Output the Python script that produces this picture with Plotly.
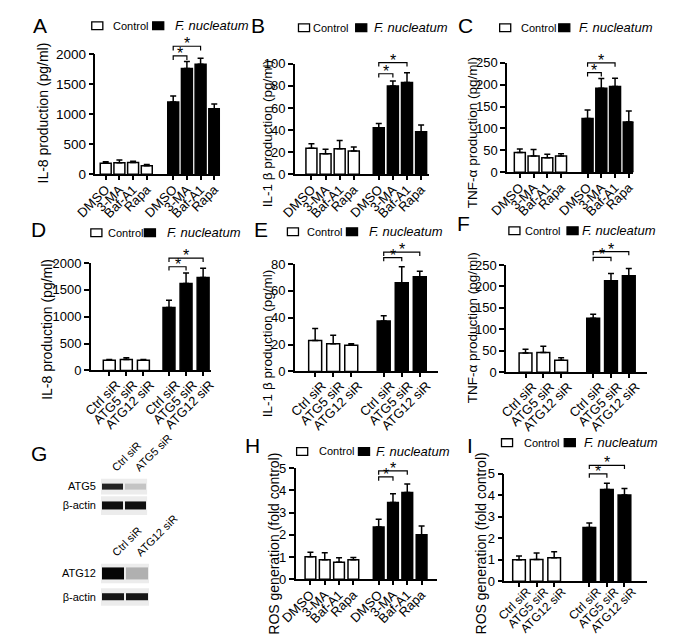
import plotly.graph_objects as go

W, H = 674, 635

# ---------------- data ----------------
drug_labels = ["DMSO", "3-MA", "Baf-A1", "Rapa"]
sirna_labels = ["Ctrl siR", "ATG5 siR", "ATG12 siR"]

# A: IL-8 (pg/ml), autophagy drugs
a_ctrl = [180, 190, 195, 140]
a_ctrl_err = [25, 45, 20, 20]
a_fn = [1200, 1760, 1830, 1090]
a_fn_err = [100, 115, 100, 80]

# B: IL-1 beta (pg/ml), autophagy drugs
b_ctrl = [23.5, 18.5, 23, 21]
b_ctrl_err = [4, 4, 7.5, 3.5]
b_fn = [42, 80, 83, 38.5]
b_fn_err = [4, 4.5, 9, 6]

# C: TNF-alpha (pg/ml), autophagy drugs
c_ctrl = [45, 37, 33, 37]
c_ctrl_err = [8, 15, 8, 5]
c_fn = [123, 192, 196, 115]
c_fn_err = [19, 22, 19, 25]

# D: IL-8 (pg/ml), siRNA
d_ctrl = [190, 205, 190]
d_ctrl_err = [15, 30, 15]
d_fn = [1170, 1620, 1730]
d_fn_err = [135, 195, 170]

# E: IL-1 beta (pg/ml), siRNA
e_ctrl = [23, 20.5, 19.5]
e_ctrl_err = [9, 6.5, 1]
e_fn = [37.5, 66, 70.5]
e_fn_err = [4, 12, 4]

# F: TNF-alpha (pg/ml), siRNA
f_ctrl = [45, 46, 28]
f_ctrl_err = [9, 15, 6]
f_fn = [126, 213, 225]
f_fn_err = [9, 17, 17]

# H: ROS (fold control), autophagy drugs
h_ctrl = [1.02, 0.88, 0.77, 0.88]
h_ctrl_err = [0.2, 0.32, 0.2, 0.1]
h_fn = [2.35, 3.45, 3.9, 2.0]
h_fn_err = [0.35, 0.4, 0.38, 0.4]

# I: ROS (fold control), siRNA
i_ctrl = [1.0, 1.02, 1.1]
i_ctrl_err = [0.18, 0.3, 0.27]
i_fn = [2.5, 4.27, 4.02]
i_fn_err = [0.22, 0.3, 0.3]

# G: western blot band intensities (0 = none, 1 = saturated)
blot1_lanes = ["Ctrl siR", "ATG5 siR"]
blot2_lanes = ["Ctrl siR", "ATG12 siR"]
atg5_bands = [0.85, 0.2]
actin1_bands = [0.95, 0.95]
atg12_bands = [1.0, 0.3]
actin2_bands = [0.92, 0.92]

series_names = ["Control", "<i>F. nucleatum</i>"]

# ---------------- layout helpers ----------------
def fx(px):
    return px / W

def fy(py):
    return 1 - py / H

FONT = "Arial, Liberation Sans, sans-serif"

# leg = (box1 left, text1 left, box2 left, text2 left, y centre)
panels = [
    dict(letter="A", labels=drug_labels, ctrl=a_ctrl, ctrl_err=a_ctrl_err, fn=a_fn, fn_err=a_fn_err,
         ymax=2000, dtick=500, title="IL-8 production (pg/ml)", tsz=14, ysz=13.5, xsz=13,
         xd=(72, 207), yd=(40, 163), xr=(-0.75, 8.35), off=4.93, bw=0.8, shift=0, sto=-3,
         leg=(68, 90, 134, 157, 11), let=(2, 11), tit=(15, 100), br=(0.985, 1.065)),
    dict(letter="B", labels=drug_labels, ctrl=b_ctrl, ctrl_err=b_ctrl_err, fn=b_fn, fn_err=b_fn_err,
         ymax=100, dtick=20, title="IL-1 \u03b2 production (pg/ml)", tsz=13.5, ysz=13, xsz=13,
         xd=(288, 433), yd=(50, 163), xr=(-1.18, 8.3), off=4.77, bw=0.78, shift=0, sto=-3,
         leg=(292, 307, 354, 373, 13), let=(238, 11), tit=(258, 122), br=(0.91, 1.01)),
    dict(letter="C", labels=drug_labels, ctrl=c_ctrl, ctrl_err=c_ctrl_err, fn=c_fn, fn_err=c_fn_err,
         ymax=250, dtick=50, title="TNF-\u03b1 production (pg/ml)", tsz=13.5, ysz=13, xsz=13,
         xd=(518, 655), yd=(49, 161), xr=(-0.93, 8.27), off=4.93, bw=0.8, shift=0, sto=-3,
         leg=(510, 532, 574, 595, 13), let=(463, 11), tit=(480, 120), br=(0.91, 1.0)),
    dict(letter="D", labels=sirna_labels, ctrl=d_ctrl, ctrl_err=d_ctrl_err, fn=d_fn, fn_err=d_fn_err,
         ymax=2000, dtick=500, title="IL-8 production (pg/ml)", tsz=14, ysz=13, xsz=13,
         xd=(67, 197), yd=(254, 364), xr=(-1.08, 5.95), off=3.5, bw=0.7, shift=7, sto=-4,
         leg=(67, 84, 125, 148, 223), let=(0, 220), tit=(20, 322), br=(0.965, 1.045)),
    dict(letter="E", labels=sirna_labels, ctrl=e_ctrl, ctrl_err=e_ctrl_err, fn=e_fn, fn_err=e_fn_err,
         ymax=80, dtick=20, title="IL-1 \u03b2 production (pg/ml)", tsz=13.5, ysz=13, xsz=13,
         xd=(288, 443), yd=(255, 365), xr=(-1.13, 6.8), off=3.8, bw=0.72, shift=7, sto=-4,
         leg=(280, 300, 344, 367, 222), let=(242, 220), tit=(258, 337), br=(1.06, 1.11)),
    dict(letter="F", labels=sirna_labels, ctrl=f_ctrl, ctrl_err=f_ctrl_err, fn=f_fn, fn_err=f_fn_err,
         ymax=250, dtick=50, title="TNF-\u03b1 production (pg/ml)", tsz=13.5, ysz=13, xsz=13,
         xd=(517, 670), yd=(256, 366), xr=(-1.09, 6.84), off=3.8, bw=0.72, shift=7, sto=-4,
         leg=(520, 536, 583, 598, 221), let=(462, 214), tit=(481, 320), br=(1.07, 1.125)),
    dict(letter="H", labels=drug_labels, ctrl=h_ctrl, ctrl_err=h_ctrl_err, fn=h_fn, fn_err=h_fn_err,
         ymax=5, dtick=1, title="ROS generation (fold control)", tsz=14, ysz=13, xsz=13,
         xd=(289, 442), yd=(464, 578), xr=(-1.03, 8.84), off=4.77, bw=0.75, shift=0, sto=-3,
         leg=(290, 313, 357, 375, 447), let=(232, 441), tit=(266, 541), br=(0.92, 0.975)),
    dict(letter="I", labels=sirna_labels, ctrl=i_ctrl, ctrl_err=i_ctrl_err, fn=i_fn, fn_err=i_fn_err,
         ymax=5, dtick=1, title="ROS generation (fold control)", tsz=14, ysz=13, xsz=12,
         xd=(515, 670), yd=(470, 580), xr=(-0.84, 7.3), off=4.0, bw=0.72, shift=8, sto=-7,
         leg=(512, 535, 580, 600, 438), let=(472, 441), tit=(490, 541), br=(1.0, 1.08)),
]

fig = go.Figure()
layout = dict(
    width=W, height=H, margin=dict(l=0, r=0, t=0, b=0),
    paper_bgcolor="white", plot_bgcolor="rgba(0,0,0,0)",
    font=dict(family=FONT, color="black", size=13),
    showlegend=False, barmode="overlay",
)
annotations = []
shapes = []
NP = len(panels)
EXTRA = 40  # px of headroom for significance brackets
bar_colors = ["white", "black"]
leg_fonts = [11, 13]

for i, p in enumerate(panels):
    k = i + 1
    xa = "x" if k == 1 else f"x{k}"
    ya = "y" if k == 1 else f"y{k}"
    bk = k + NP
    yb = f"y{bk}"
    n = len(p["labels"])
    xc = list(range(n))
    xf = [j + p["off"] for j in range(n)]

    for s, (xs, ys, es) in enumerate([(xc, p["ctrl"], p["ctrl_err"]), (xf, p["fn"], p["fn_err"])]):
        fig.add_trace(go.Bar(
            x=xs, y=ys, width=p["bw"], name=series_names[s],
            marker=dict(color=bar_colors[s], line=dict(color="black", width=1.5)),
            error_y=dict(type="data", array=es, arrayminus=[0] * n, symmetric=False,
                         color="black", thickness=1.5, width=3),
            xaxis=xa, yaxis=ya, hoverinfo="skip"))
        # legend key: box + label
        bx = p["leg"][2 * s]
        tx = p["leg"][2 * s + 1]
        ly = p["leg"][4]
        shapes.append(dict(type="rect", xref="paper", yref="paper",
                           x0=fx(bx), x1=fx(bx + 12), y0=fy(ly + 4), y1=fy(ly - 4),
                           fillcolor=bar_colors[s], line=dict(color="black", width=1.3)))
        annotations.append(dict(x=fx(tx), y=fy(ly), xref="paper", yref="paper",
                                text=series_names[s], showarrow=False, xanchor="left",
                                yanchor="middle", borderpad=0,
                                font=dict(size=leg_fonts[s], family=FONT)))

    x0, x1 = fx(p["xd"][0]), fx(p["xd"][1])
    ytop, ybot = p["yd"]
    hpx = ybot - ytop
    layout[f"xaxis{k}"] = dict(
        domain=[x0, x1], anchor=ya, range=list(p["xr"]),
        tickvals=xc + xf, ticktext=p["labels"] + p["labels"], tickangle=-45,
        showline=True, linecolor="black", linewidth=1.5, ticks="outside", ticklen=4,
        tickwidth=1.5, tickcolor="black", showgrid=False, zeroline=False,
        ticklabelshift=p["shift"], ticklabelstandoff=p["sto"],
        tickfont=dict(size=p["xsz"], family=FONT), fixedrange=True)
    layout[f"yaxis{k}"] = dict(
        domain=[fy(ybot), fy(ytop)], anchor=xa, range=[0, p["ymax"]], dtick=p["dtick"],
        showline=True, linecolor="black", linewidth=1.5, ticks="outside", ticklen=5,
        tickwidth=1.5, tickcolor="black", showgrid=False, zeroline=False,
        tickfont=dict(size=p["ysz"], family=FONT), fixedrange=True)
    # bracket axis: same scale, extended upward
    layout[f"yaxis{bk}"] = dict(
        domain=[fy(ybot), fy(ytop - EXTRA)], anchor=xa,
        range=[0, p["ymax"] * (hpx + EXTRA) / hpx], visible=False, fixedrange=True)

    # significance brackets: F. nucleatum first group vs 2nd and 3rd treatments
    tick = p["ymax"] * 0.035
    for j, lvl in zip([1, 2], p["br"]):
        L = p["ymax"] * lvl
        fig.add_trace(go.Scatter(
            x=[xf[0], xf[0], xf[j], xf[j]], y=[L - tick, L, L, L - tick],
            mode="lines", line=dict(color="black", width=1.2), showlegend=False,
            hoverinfo="skip", xaxis=xa, yaxis=yb))
        annotations.append(dict(
            x=(xf[0] + xf[j]) / 2, y=L, xref=xa, yref=yb, text="*", showarrow=False,
            yanchor="bottom", yshift=-8, font=dict(size=16, family=FONT)))

    annotations.append(dict(
        x=fx(p["let"][0]), y=fy(p["let"][1]), xref="paper", yref="paper", text=p["letter"],
        showarrow=False, xanchor="left", yanchor="middle", font=dict(size=21, family=FONT)))
    annotations.append(dict(
        x=fx(p["tit"][0]), y=fy(p["tit"][1]), xref="paper", yref="paper", text=p["title"],
        textangle=-90, showarrow=False, xanchor="center", yanchor="middle",
        font=dict(size=p["tsz"], family=FONT)))

# ---------------- panel G: western blots ----------------
annotations.append(dict(x=fx(0), y=fy(449), xref="paper", yref="paper", text="G",
                        showarrow=False, xanchor="left", yanchor="middle",
                        font=dict(size=21, family=FONT)))

blots = [
    dict(bands=atg5_bands, row="ATG5", lanes=blot1_lanes, xd=(78, 128), yd=(475, 491), frac=0.38),
    dict(bands=actin1_bands, row="\u03b2-actin", lanes=None, xd=(78, 128), yd=(493, 512), frac=0.45),
    dict(bands=atg12_bands, row="ATG12", lanes=blot2_lanes, xd=(78, 130), yd=(562, 582), frac=0.62),
    dict(bands=actin2_bands, row="\u03b2-actin", lanes=None, xd=(78, 130), yd=(587, 605), frac=0.42),
]
base = 2 * NP
for b_i, b in enumerate(blots):
    k = base + b_i + 1
    xa, ya = f"x{k}", f"y{k}"
    nl = len(b["bands"])
    fig.add_trace(go.Heatmap(
        z=[b["bands"]], x=list(range(nl)), y=[0], zmin=0, zmax=1,
        colorscale=[[0, "#ececec"], [0.3, "#b0b0b0"], [0.7, "#404040"], [1, "#050505"]],
        showscale=False, xgap=2, hoverinfo="skip", xaxis=xa, yaxis=ya))
    h = 0.5 / b["frac"]
    xaxis = dict(domain=[fx(b["xd"][0]), fx(b["xd"][1])], anchor=ya, range=[-0.5, nl - 0.5],
                 showgrid=False, zeroline=False, showline=False, fixedrange=True)
    if b["lanes"]:
        xaxis.update(side="top", tickvals=list(range(nl)), ticktext=b["lanes"], tickangle=-45,
                     ticks="", ticklabelstandoff=2, tickfont=dict(size=11, family=FONT))
    else:
        xaxis.update(showticklabels=False, ticks="")
    layout[f"xaxis{k}"] = xaxis
    layout[f"yaxis{k}"] = dict(domain=[fy(b["yd"][1]), fy(b["yd"][0])], anchor=xa, range=[-h, h],
                               tickvals=[0], ticktext=[b["row"]], ticks="", showgrid=False,
                               zeroline=False, showline=False, ticklabelstandoff=4,
                               tickfont=dict(size=11, family=FONT), fixedrange=True)
    shapes.append(dict(type="rect", xref=f"{xa} domain", yref=f"{ya} domain", x0=0, x1=1,
                       y0=0, y1=1, fillcolor="#ececec", line=dict(width=0), layer="below"))

layout["annotations"] = annotations
layout["shapes"] = shapes
fig.update_layout(**layout)
fig.write_html("out.html")
